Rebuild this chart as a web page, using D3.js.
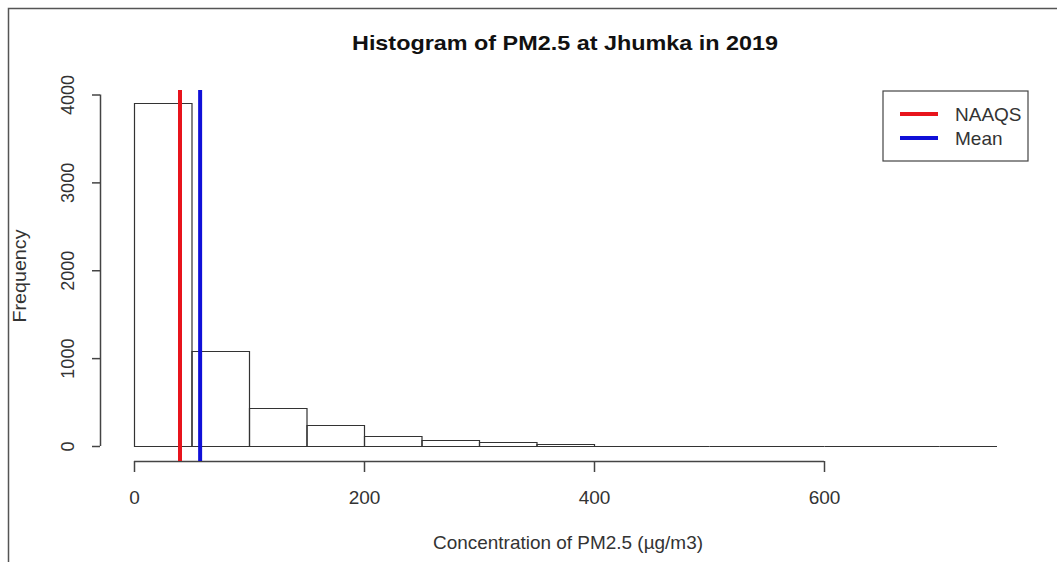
<!DOCTYPE html>
<html><head><meta charset="utf-8">
<script src="https://cdn.jsdelivr.net/npm/d3@7"></script>
<style>body{margin:0;background:#fff}svg{display:block;font-family:"Liberation Sans",Arial,sans-serif}</style>
</head><body><svg id="c" width="1057" height="562"></svg>
<script>
const binEdges = [0,50,100,150,200,250,300,350,400,450,500,550,600,650,700,750];
const counts = [3900,1085,438,236,118,72,50,24,3,2,1,1,0,0,1];
const xTicks = [0,200,400,600];
const yTicks = [0,1000,2000,3000,4000];
const refLines = [{name:"NAAQS", value:40, color:"#e8141c"},{name:"Mean", value:57.5, color:"#1010d8"}];
const title = "Histogram of PM2.5 at Jhumka in 2019";
const xLabel = "Concentration of PM2.5 (µg/m3)";
const yLabel = "Frequency";

const svg = d3.select("#c");
const ink = "#333";
const FS = 19;
// outer frame
svg.append("path").attr("d","M8.5,562 V8.5 H1057").attr("fill","none").attr("stroke","#555").attr("stroke-width",1.5);

const x = d3.scaleLinear().domain([0,750]).range([134,996.5]);
const y = d3.scaleLinear().domain([0,4000]).range([446,94.5]);

const bins = counts.map((c,i)=>({x0:binEdges[i],x1:binEdges[i+1],c}));
svg.append("g").selectAll("path").data(bins).join("path")
  .attr("d",d=>{
    const a=x(d.x0)+0.5,b=x(d.x1)+0.5,t=Math.round(y(d.c))+0.5,z=y(0)+0.5;
    return `M${a},${z}V${t}H${b}V${z}Z`;
  })
  .attr("fill","none").attr("stroke","#333").attr("stroke-width",1.2);

// x axis
const xa = svg.append("g").attr("transform","translate(0,461)")
  .call(d3.axisBottom(x).tickValues(xTicks).tickSize(11).tickPadding(18.5).tickFormat(d3.format("d")));
xa.select(".domain").attr("d",`M${x(0)},0.5H${x(600)}`).attr("stroke","#444").attr("stroke-width",1.5);
xa.selectAll(".tick line").attr("stroke","#444").attr("stroke-width",1.5);
xa.selectAll("text").attr("font-size",FS).attr("fill",ink).attr("font-family","Liberation Sans, Arial, sans-serif");

// y axis
const ya = svg.append("g").attr("transform","translate(100,0)")
  .call(d3.axisLeft(y).tickValues(yTicks).tickSize(8).tickPadding(0).tickFormat(d3.format("d")));
ya.select(".domain").attr("d",`M0.5,${y(0)}V${y(4000)}`).attr("stroke","#444").attr("stroke-width",1.5);
ya.selectAll(".tick line").attr("stroke","#444").attr("stroke-width",1.5);
ya.selectAll("text").attr("font-size",18).attr("fill",ink).attr("font-family","Liberation Sans, Arial, sans-serif")
  .attr("text-anchor","middle").attr("x",0).attr("y",0).attr("dy",0)
  .attr("transform","translate(-26,0) rotate(-90)");

// reference lines
svg.append("g").selectAll("line").data(refLines).join("line")
  .attr("x1",d=>x(d.value)).attr("x2",d=>x(d.value)).attr("y1",90).attr("y2",461)
  .attr("stroke",d=>d.color).attr("stroke-width",4);

// title and labels
svg.append("text").attr("x",565).attr("y",50).attr("text-anchor","middle")
  .attr("font-size",21).attr("font-weight","bold").attr("fill","#111")
  .attr("textLength",426).attr("lengthAdjust","spacingAndGlyphs").text(title);
svg.append("text").attr("x",568).attr("y",549).attr("text-anchor","middle")
  .attr("font-size",FS).attr("fill",ink).attr("textLength",270).attr("lengthAdjust","spacingAndGlyphs").text(xLabel);
svg.append("text").attr("transform","translate(26,276) rotate(-90)").attr("text-anchor","middle")
  .attr("font-size",FS).attr("fill",ink).attr("textLength",93).attr("lengthAdjust","spacingAndGlyphs").text(yLabel);

// legend
const lg = svg.append("g");
lg.append("rect").attr("x",883).attr("y",91).attr("width",145).attr("height",70)
  .attr("fill","#fff").attr("stroke","#444").attr("stroke-width",1.2);
refLines.forEach((d,i)=>{
  const yy = 114 + i*24;
  lg.append("line").attr("x1",900).attr("x2",938).attr("y1",yy).attr("y2",yy).attr("stroke",d.color).attr("stroke-width",4);
  lg.append("text").attr("x",955).attr("y",yy+6.5).attr("font-size",FS).attr("fill",ink).text(d.name);
});
</script></body></html>
